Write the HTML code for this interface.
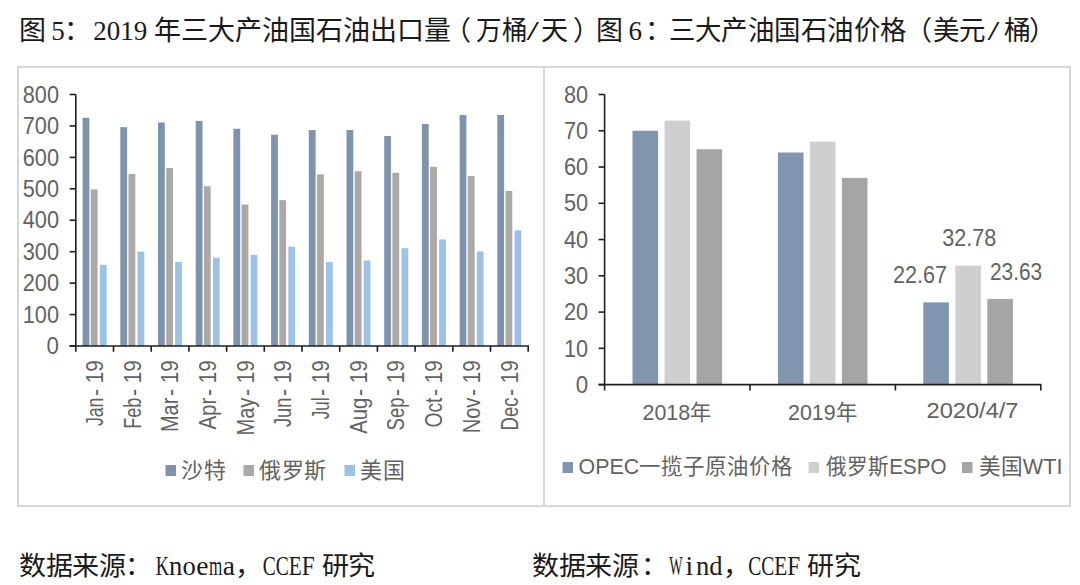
<!DOCTYPE html>
<html lang="zh-CN"><head><meta charset="utf-8"><title>chart</title>
<style>html,body{margin:0;padding:0;background:#fff;width:1080px;height:585px;overflow:hidden;position:relative;font-family:"Liberation Sans",sans-serif}</style>
</head><body>
<svg width="1080" height="585" viewBox="0 0 1080 585" style="position:absolute;left:0;top:0">
<rect x="17" y="66" width="1054" height="2" fill="#d7d7d7"/>
<rect x="17" y="505" width="1054" height="2" fill="#d7d7d7"/>
<rect x="17" y="66" width="2" height="441" fill="#d7d7d7"/>
<rect x="1069" y="66" width="2" height="441" fill="#d7d7d7"/>
<rect x="543" y="66" width="2" height="441" fill="#d7d7d7"/>
<rect x="82.60" y="117.76" width="6.8" height="228.24" fill="#7f93ad"/>
<rect x="90.80" y="189.44" width="6.8" height="156.56" fill="#aba8a6"/>
<rect x="99.80" y="264.89" width="6.8" height="81.11" fill="#9dc2e5"/>
<rect x="120.30" y="127.19" width="6.8" height="218.81" fill="#7f93ad"/>
<rect x="128.50" y="174.04" width="6.8" height="171.96" fill="#aba8a6"/>
<rect x="137.50" y="251.69" width="6.8" height="94.31" fill="#9dc2e5"/>
<rect x="158.00" y="122.48" width="6.8" height="223.52" fill="#7f93ad"/>
<rect x="166.20" y="168.06" width="6.8" height="177.94" fill="#aba8a6"/>
<rect x="175.20" y="262.06" width="6.8" height="83.94" fill="#9dc2e5"/>
<rect x="195.70" y="120.91" width="6.8" height="225.09" fill="#7f93ad"/>
<rect x="203.90" y="186.30" width="6.8" height="159.70" fill="#aba8a6"/>
<rect x="212.90" y="257.66" width="6.8" height="88.34" fill="#9dc2e5"/>
<rect x="233.40" y="128.77" width="6.8" height="217.23" fill="#7f93ad"/>
<rect x="241.60" y="204.53" width="6.8" height="141.47" fill="#aba8a6"/>
<rect x="250.60" y="254.83" width="6.8" height="91.17" fill="#9dc2e5"/>
<rect x="271.10" y="134.74" width="6.8" height="211.26" fill="#7f93ad"/>
<rect x="279.30" y="200.13" width="6.8" height="145.87" fill="#aba8a6"/>
<rect x="288.30" y="246.66" width="6.8" height="99.34" fill="#9dc2e5"/>
<rect x="308.80" y="130.02" width="6.8" height="215.98" fill="#7f93ad"/>
<rect x="317.00" y="174.35" width="6.8" height="171.65" fill="#aba8a6"/>
<rect x="326.00" y="262.06" width="6.8" height="83.94" fill="#9dc2e5"/>
<rect x="346.50" y="130.02" width="6.8" height="215.98" fill="#7f93ad"/>
<rect x="354.70" y="171.21" width="6.8" height="174.79" fill="#aba8a6"/>
<rect x="363.70" y="260.49" width="6.8" height="85.51" fill="#9dc2e5"/>
<rect x="384.20" y="136.00" width="6.8" height="210.00" fill="#7f93ad"/>
<rect x="392.40" y="172.78" width="6.8" height="173.22" fill="#aba8a6"/>
<rect x="401.40" y="248.23" width="6.8" height="97.77" fill="#9dc2e5"/>
<rect x="421.90" y="124.05" width="6.8" height="221.95" fill="#7f93ad"/>
<rect x="430.10" y="166.81" width="6.8" height="179.19" fill="#aba8a6"/>
<rect x="439.10" y="239.43" width="6.8" height="106.57" fill="#9dc2e5"/>
<rect x="459.60" y="114.93" width="6.8" height="231.07" fill="#7f93ad"/>
<rect x="467.80" y="175.92" width="6.8" height="170.08" fill="#aba8a6"/>
<rect x="476.80" y="251.37" width="6.8" height="94.63" fill="#9dc2e5"/>
<rect x="497.30" y="114.93" width="6.8" height="231.07" fill="#7f93ad"/>
<rect x="505.50" y="191.01" width="6.8" height="154.99" fill="#aba8a6"/>
<rect x="514.50" y="230.31" width="6.8" height="115.69" fill="#9dc2e5"/>
<g stroke="#1e1e1e" stroke-width="1.6" fill="none">
<line x1="75.8" y1="94.5" x2="75.8" y2="351.8"/>
<line x1="69.6" y1="346.0" x2="529.0" y2="346.0"/>
<line x1="69.6" y1="346.00" x2="75.8" y2="346.00"/>
<line x1="69.6" y1="314.56" x2="75.8" y2="314.56"/>
<line x1="69.6" y1="283.12" x2="75.8" y2="283.12"/>
<line x1="69.6" y1="251.69" x2="75.8" y2="251.69"/>
<line x1="69.6" y1="220.25" x2="75.8" y2="220.25"/>
<line x1="69.6" y1="188.81" x2="75.8" y2="188.81"/>
<line x1="69.6" y1="157.38" x2="75.8" y2="157.38"/>
<line x1="69.6" y1="125.94" x2="75.8" y2="125.94"/>
<line x1="69.6" y1="94.50" x2="75.8" y2="94.50"/>
<line x1="113.50" y1="346.0" x2="113.50" y2="351.8"/>
<line x1="151.20" y1="346.0" x2="151.20" y2="351.8"/>
<line x1="188.90" y1="346.0" x2="188.90" y2="351.8"/>
<line x1="226.60" y1="346.0" x2="226.60" y2="351.8"/>
<line x1="264.30" y1="346.0" x2="264.30" y2="351.8"/>
<line x1="302.00" y1="346.0" x2="302.00" y2="351.8"/>
<line x1="339.70" y1="346.0" x2="339.70" y2="351.8"/>
<line x1="377.40" y1="346.0" x2="377.40" y2="351.8"/>
<line x1="415.10" y1="346.0" x2="415.10" y2="351.8"/>
<line x1="452.80" y1="346.0" x2="452.80" y2="351.8"/>
<line x1="490.50" y1="346.0" x2="490.50" y2="351.8"/>
<line x1="528.20" y1="346.0" x2="528.20" y2="351.8"/>
</g>
<g font-family="Liberation Sans, sans-serif" font-size="23" fill="#626262">
<text x="46.60" y="354.20" textLength="12.4" lengthAdjust="spacingAndGlyphs">0</text>
<text x="22.80" y="322.76" textLength="36.2" lengthAdjust="spacingAndGlyphs">100</text>
<text x="22.80" y="291.32" textLength="36.2" lengthAdjust="spacingAndGlyphs">200</text>
<text x="22.80" y="259.89" textLength="36.2" lengthAdjust="spacingAndGlyphs">300</text>
<text x="22.80" y="228.45" textLength="36.2" lengthAdjust="spacingAndGlyphs">400</text>
<text x="22.80" y="197.01" textLength="36.2" lengthAdjust="spacingAndGlyphs">500</text>
<text x="22.80" y="165.57" textLength="36.2" lengthAdjust="spacingAndGlyphs">600</text>
<text x="22.80" y="134.14" textLength="36.2" lengthAdjust="spacingAndGlyphs">700</text>
<text x="22.80" y="102.70" textLength="36.2" lengthAdjust="spacingAndGlyphs">800</text>
</g>
<g font-family="Liberation Sans, sans-serif" font-size="23" fill="#626262">
<text transform="translate(102.85,383.3) rotate(-90)" textLength="23.2" lengthAdjust="spacingAndGlyphs">19</text>
<text transform="translate(102.85,395.9) rotate(-90)" textLength="7.2" lengthAdjust="spacingAndGlyphs">-</text>
<text transform="translate(102.85,426.10) rotate(-90)" textLength="28.50" lengthAdjust="spacingAndGlyphs">Jan</text>
<text transform="translate(140.55,383.3) rotate(-90)" textLength="23.2" lengthAdjust="spacingAndGlyphs">19</text>
<text transform="translate(140.55,395.9) rotate(-90)" textLength="7.2" lengthAdjust="spacingAndGlyphs">-</text>
<text transform="translate(140.55,428.80) rotate(-90)" textLength="31.20" lengthAdjust="spacingAndGlyphs">Feb</text>
<text transform="translate(178.25,383.3) rotate(-90)" textLength="23.2" lengthAdjust="spacingAndGlyphs">19</text>
<text transform="translate(178.25,395.9) rotate(-90)" textLength="7.2" lengthAdjust="spacingAndGlyphs">-</text>
<text transform="translate(178.25,432.10) rotate(-90)" textLength="34.50" lengthAdjust="spacingAndGlyphs">Mar</text>
<text transform="translate(215.95,383.3) rotate(-90)" textLength="23.2" lengthAdjust="spacingAndGlyphs">19</text>
<text transform="translate(215.95,395.9) rotate(-90)" textLength="7.2" lengthAdjust="spacingAndGlyphs">-</text>
<text transform="translate(215.95,429.60) rotate(-90)" textLength="32.00" lengthAdjust="spacingAndGlyphs">Apr</text>
<text transform="translate(253.65,383.3) rotate(-90)" textLength="23.2" lengthAdjust="spacingAndGlyphs">19</text>
<text transform="translate(253.65,395.9) rotate(-90)" textLength="7.2" lengthAdjust="spacingAndGlyphs">-</text>
<text transform="translate(253.65,435.50) rotate(-90)" textLength="37.90" lengthAdjust="spacingAndGlyphs">May</text>
<text transform="translate(291.35,383.3) rotate(-90)" textLength="23.2" lengthAdjust="spacingAndGlyphs">19</text>
<text transform="translate(291.35,395.9) rotate(-90)" textLength="7.2" lengthAdjust="spacingAndGlyphs">-</text>
<text transform="translate(291.35,427.00) rotate(-90)" textLength="29.40" lengthAdjust="spacingAndGlyphs">Jun</text>
<text transform="translate(329.05,383.3) rotate(-90)" textLength="23.2" lengthAdjust="spacingAndGlyphs">19</text>
<text transform="translate(329.05,395.9) rotate(-90)" textLength="7.2" lengthAdjust="spacingAndGlyphs">-</text>
<text transform="translate(329.05,419.30) rotate(-90)" textLength="21.70" lengthAdjust="spacingAndGlyphs">Jul</text>
<text transform="translate(366.75,383.3) rotate(-90)" textLength="23.2" lengthAdjust="spacingAndGlyphs">19</text>
<text transform="translate(366.75,395.9) rotate(-90)" textLength="7.2" lengthAdjust="spacingAndGlyphs">-</text>
<text transform="translate(366.75,433.80) rotate(-90)" textLength="36.20" lengthAdjust="spacingAndGlyphs">Aug</text>
<text transform="translate(404.45,383.3) rotate(-90)" textLength="23.2" lengthAdjust="spacingAndGlyphs">19</text>
<text transform="translate(404.45,395.9) rotate(-90)" textLength="7.2" lengthAdjust="spacingAndGlyphs">-</text>
<text transform="translate(404.45,430.40) rotate(-90)" textLength="32.80" lengthAdjust="spacingAndGlyphs">Sep</text>
<text transform="translate(442.15,383.3) rotate(-90)" textLength="23.2" lengthAdjust="spacingAndGlyphs">19</text>
<text transform="translate(442.15,395.9) rotate(-90)" textLength="7.2" lengthAdjust="spacingAndGlyphs">-</text>
<text transform="translate(442.15,427.50) rotate(-90)" textLength="29.90" lengthAdjust="spacingAndGlyphs">Oct</text>
<text transform="translate(479.85,383.3) rotate(-90)" textLength="23.2" lengthAdjust="spacingAndGlyphs">19</text>
<text transform="translate(479.85,395.9) rotate(-90)" textLength="7.2" lengthAdjust="spacingAndGlyphs">-</text>
<text transform="translate(479.85,433.30) rotate(-90)" textLength="35.70" lengthAdjust="spacingAndGlyphs">Nov</text>
<text transform="translate(517.55,383.3) rotate(-90)" textLength="23.2" lengthAdjust="spacingAndGlyphs">19</text>
<text transform="translate(517.55,395.9) rotate(-90)" textLength="7.2" lengthAdjust="spacingAndGlyphs">-</text>
<text transform="translate(517.55,430.40) rotate(-90)" textLength="32.80" lengthAdjust="spacingAndGlyphs">Dec</text>
</g>
<rect x="632.50" y="130.76" width="25.6" height="253.84" fill="#8195ae"/>
<rect x="664.50" y="120.61" width="25.6" height="263.99" fill="#d0cfd0"/>
<rect x="696.50" y="149.26" width="25.6" height="235.34" fill="#a5a5a5"/>
<rect x="777.90" y="152.52" width="25.6" height="232.08" fill="#8195ae"/>
<rect x="809.90" y="141.64" width="25.6" height="242.96" fill="#d0cfd0"/>
<rect x="841.90" y="177.90" width="25.6" height="206.70" fill="#a5a5a5"/>
<rect x="923.30" y="302.39" width="25.6" height="82.21" fill="#8195ae"/>
<rect x="955.30" y="265.73" width="25.6" height="118.87" fill="#d0cfd0"/>
<rect x="987.30" y="298.91" width="25.6" height="85.69" fill="#a5a5a5"/>
<g stroke="#1e1e1e" stroke-width="1.6" fill="none">
<line x1="604.6" y1="94.5" x2="604.6" y2="390.40000000000003"/>
<line x1="598.6" y1="384.6" x2="1041.3" y2="384.6"/>
<line x1="598.6" y1="384.60" x2="604.6" y2="384.60"/>
<line x1="598.6" y1="348.34" x2="604.6" y2="348.34"/>
<line x1="598.6" y1="312.08" x2="604.6" y2="312.08"/>
<line x1="598.6" y1="275.81" x2="604.6" y2="275.81"/>
<line x1="598.6" y1="239.55" x2="604.6" y2="239.55"/>
<line x1="598.6" y1="203.29" x2="604.6" y2="203.29"/>
<line x1="598.6" y1="167.03" x2="604.6" y2="167.03"/>
<line x1="598.6" y1="130.76" x2="604.6" y2="130.76"/>
<line x1="598.6" y1="94.50" x2="604.6" y2="94.50"/>
<line x1="750.00" y1="384.6" x2="750.00" y2="390.40000000000003"/>
<line x1="895.40" y1="384.6" x2="895.40" y2="390.40000000000003"/>
<line x1="1040.80" y1="384.6" x2="1040.80" y2="390.40000000000003"/>
</g>
<g font-family="Liberation Sans, sans-serif" font-size="23" fill="#626262">
<text x="575.80" y="392.80" textLength="12.4" lengthAdjust="spacingAndGlyphs">0</text>
<text x="564.00" y="356.54" textLength="24.2" lengthAdjust="spacingAndGlyphs">10</text>
<text x="564.00" y="320.28" textLength="24.2" lengthAdjust="spacingAndGlyphs">20</text>
<text x="564.00" y="284.01" textLength="24.2" lengthAdjust="spacingAndGlyphs">30</text>
<text x="564.00" y="247.75" textLength="24.2" lengthAdjust="spacingAndGlyphs">40</text>
<text x="564.00" y="211.49" textLength="24.2" lengthAdjust="spacingAndGlyphs">50</text>
<text x="564.00" y="175.23" textLength="24.2" lengthAdjust="spacingAndGlyphs">60</text>
<text x="564.00" y="138.96" textLength="24.2" lengthAdjust="spacingAndGlyphs">70</text>
<text x="564.00" y="102.70" textLength="24.2" lengthAdjust="spacingAndGlyphs">80</text>
</g>
<g font-family="Liberation Sans, sans-serif" font-size="22" fill="#626262">
<text x="642.5" y="419.5" textLength="69" lengthAdjust="spacingAndGlyphs">2018年</text>
<text x="788" y="419.5" textLength="69" lengthAdjust="spacingAndGlyphs">2019年</text>
<text x="926.5" y="417.6" textLength="92" lengthAdjust="spacingAndGlyphs">2020/4/7</text>
<text x="893" y="283" font-size="23" textLength="54" lengthAdjust="spacingAndGlyphs">22.67</text>
<text x="942.3" y="246" font-size="23" textLength="54" lengthAdjust="spacingAndGlyphs">32.78</text>
<text x="990" y="279.5" font-size="23" textLength="52.2" lengthAdjust="spacingAndGlyphs">23.63</text>
</g>
<g font-family="Liberation Sans, sans-serif" font-size="21.5" fill="#626262">
<rect x="165.5" y="465" width="10.5" height="11" fill="#7f93ad"/>
<text x="181" y="477.6" textLength="45" lengthAdjust="spacingAndGlyphs">沙特</text>
<rect x="243.5" y="465" width="10.5" height="11" fill="#aba8a6"/>
<text x="259" y="477.6" textLength="67.5" lengthAdjust="spacingAndGlyphs">俄罗斯</text>
<rect x="344.5" y="465" width="10.5" height="11" fill="#9dc2e5"/>
<text x="360" y="477.6" textLength="45" lengthAdjust="spacingAndGlyphs">美国</text>
<rect x="562.5" y="462" width="10.5" height="11" fill="#8195ae"/>
<text x="578.5" y="474.2" textLength="214" lengthAdjust="spacingAndGlyphs">OPEC一揽子原油价格</text>
<rect x="808.5" y="462" width="10.5" height="11" fill="#d0cfd0"/>
<text x="826" y="474.2" textLength="120.5" lengthAdjust="spacingAndGlyphs">俄罗斯ESPO</text>
<rect x="962" y="462" width="10.5" height="11" fill="#a5a5a5"/>
<text x="978.5" y="474.2" textLength="84" lengthAdjust="spacingAndGlyphs">美国WTI</text>
</g>
<g font-family="Liberation Sans, sans-serif" font-size="27" fill="#1a1a1a">
<text x="19.4" y="40" textLength="27" lengthAdjust="spacingAndGlyphs">图</text>
<text x="51.3" y="40" font-family="Liberation Serif, serif" textLength="13.5" lengthAdjust="spacingAndGlyphs">5</text>
<text x="63.7" y="40" textLength="27" lengthAdjust="spacingAndGlyphs">：</text>
<text x="93.2" y="40" font-family="Liberation Serif, serif" textLength="54" lengthAdjust="spacingAndGlyphs">2019</text>
<text x="154" y="40" textLength="297" lengthAdjust="spacingAndGlyphs">年三大产油国石油出口量</text>
<text x="444.3" y="40" textLength="27" lengthAdjust="spacingAndGlyphs">（</text>
<text x="476" y="40" textLength="51" lengthAdjust="spacingAndGlyphs">万桶</text>
<text x="526.4" y="40" font-family="Liberation Serif, serif" textLength="12.5" lengthAdjust="spacingAndGlyphs">/</text>
<text x="540.7" y="40" textLength="27" lengthAdjust="spacingAndGlyphs">天</text>
<text x="572.6" y="40" textLength="27" lengthAdjust="spacingAndGlyphs">）</text>
<text x="595.8" y="40" textLength="27" lengthAdjust="spacingAndGlyphs">图</text>
<text x="628.6" y="40" font-family="Liberation Serif, serif" textLength="13.5" lengthAdjust="spacingAndGlyphs">6</text>
<text x="645" y="40" textLength="27" lengthAdjust="spacingAndGlyphs">：</text>
<text x="668.5" y="40" textLength="238" lengthAdjust="spacingAndGlyphs">三大产油国石油价格</text>
<text x="904.7" y="40" textLength="27" lengthAdjust="spacingAndGlyphs">（</text>
<text x="932.8" y="40" textLength="53" lengthAdjust="spacingAndGlyphs">美元</text>
<text x="987.4" y="40" font-family="Liberation Serif, serif" textLength="12" lengthAdjust="spacingAndGlyphs">/</text>
<text x="1003.7" y="40" textLength="27" lengthAdjust="spacingAndGlyphs">桶</text>
<text x="1029.4" y="40" textLength="27" lengthAdjust="spacingAndGlyphs">）</text>
</g>
<g font-family="Liberation Sans, sans-serif" font-size="26.5" fill="#1a1a1a">
<text x="19" y="575" textLength="106" lengthAdjust="spacingAndGlyphs">数据来源</text>
<text x="125.1" y="575" textLength="26.5" lengthAdjust="spacingAndGlyphs">：</text>
<text x="155.80" y="575" font-family="Liberation Serif, serif" font-size="27.5" textLength="13.30" lengthAdjust="spacingAndGlyphs">K</text>
<text x="169.10" y="575" font-family="Liberation Serif, serif" font-size="27.5" textLength="13.30" lengthAdjust="spacingAndGlyphs">n</text>
<text x="182.40" y="575" font-family="Liberation Serif, serif" font-size="27.5" textLength="13.30" lengthAdjust="spacingAndGlyphs">o</text>
<text x="196.25" y="575" font-family="Liberation Serif, serif" font-size="27.5">e</text>
<text x="209.00" y="575" font-family="Liberation Serif, serif" font-size="27.5" textLength="13.30" lengthAdjust="spacingAndGlyphs">m</text>
<text x="222.84" y="575" font-family="Liberation Serif, serif" font-size="27.5">a</text>
<text x="235.2" y="575" textLength="26.5" lengthAdjust="spacingAndGlyphs">，</text>
<text x="262.80" y="575" font-family="Liberation Serif, serif" font-size="27.5" textLength="13.00" lengthAdjust="spacingAndGlyphs">C</text>
<text x="275.80" y="575" font-family="Liberation Serif, serif" font-size="27.5" textLength="13.00" lengthAdjust="spacingAndGlyphs">C</text>
<text x="288.80" y="575" font-family="Liberation Serif, serif" font-size="27.5" textLength="13.00" lengthAdjust="spacingAndGlyphs">E</text>
<text x="301.80" y="575" font-family="Liberation Serif, serif" font-size="27.5" textLength="13.00" lengthAdjust="spacingAndGlyphs">F</text>
<text x="321.5" y="575" textLength="53" lengthAdjust="spacingAndGlyphs">研究</text>
<text x="532" y="575" textLength="106" lengthAdjust="spacingAndGlyphs">数据来源</text>
<text x="640.7" y="575" textLength="26.5" lengthAdjust="spacingAndGlyphs">：</text>
<text x="669.30" y="575" font-family="Liberation Serif, serif" font-size="27.5" textLength="13.30" lengthAdjust="spacingAndGlyphs">W</text>
<text x="685.43" y="575" font-family="Liberation Serif, serif" font-size="27.5">i</text>
<text x="695.90" y="575" font-family="Liberation Serif, serif" font-size="27.5" textLength="13.30" lengthAdjust="spacingAndGlyphs">n</text>
<text x="709.20" y="575" font-family="Liberation Serif, serif" font-size="27.5" textLength="13.30" lengthAdjust="spacingAndGlyphs">d</text>
<text x="723.4" y="575" textLength="26.5" lengthAdjust="spacingAndGlyphs">，</text>
<text x="748.20" y="575" font-family="Liberation Serif, serif" font-size="27.5" textLength="13.00" lengthAdjust="spacingAndGlyphs">C</text>
<text x="761.20" y="575" font-family="Liberation Serif, serif" font-size="27.5" textLength="13.00" lengthAdjust="spacingAndGlyphs">C</text>
<text x="774.20" y="575" font-family="Liberation Serif, serif" font-size="27.5" textLength="13.00" lengthAdjust="spacingAndGlyphs">E</text>
<text x="787.20" y="575" font-family="Liberation Serif, serif" font-size="27.5" textLength="13.00" lengthAdjust="spacingAndGlyphs">F</text>
<text x="807" y="575" textLength="53" lengthAdjust="spacingAndGlyphs">研究</text>
</g>
</svg>
</body></html>
